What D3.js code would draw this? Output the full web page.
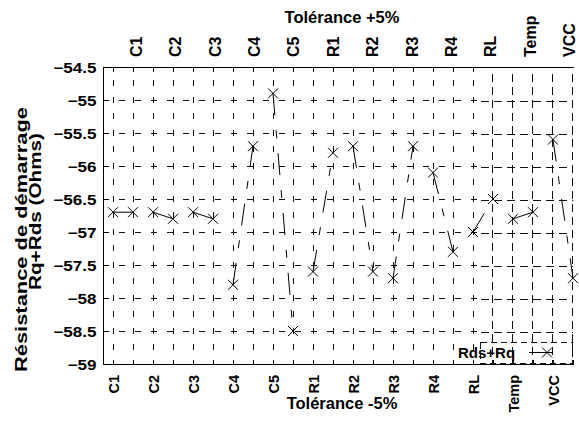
<!DOCTYPE html>
<html>
<head>
<meta charset="utf-8">
<script src="https://cdn.jsdelivr.net/npm/d3@7"></script>
<style>
  html, body { margin: 0; padding: 0; background: #fff; }
  svg { display: block; }
  text { font-family: "Liberation Sans", Arial, Helvetica, sans-serif; font-weight: bold; fill: #000; }
</style>
</head>
<body>
<svg id="chart" width="579" height="426"></svg>
<script>
// ---------------- data ----------------
const params = ["C1", "C2", "C3", "C4", "C5", "R1", "R2", "R3", "R4", "RL", "Temp", "VCC"];
const minus5 = [-56.7, -56.7, -56.7, -57.8, -54.9, -57.6, -55.7, -57.7, -56.1, -57.0, -56.8, -55.6];
const plus5  = [-56.7, -56.8, -56.8, -55.7, -58.5, -55.8, -57.6, -55.7, -57.3, -56.5, -56.7, -57.7];
const yTicks = [-54.5, -55, -55.5, -56, -56.5, -57, -57.5, -58, -58.5, -59];
const seriesName = "Rds+Rq";
const titleTop = "Tolérance +5%";
const titleBottom = "Tolérance -5%";
const yLabel1 = "Résistance de démarrage";
const yLabel2 = "Rq+Rds  (Ohms)";

// ---------------- layout ----------------
const L = 103, R = 573, T = 67, B = 364;
const svg = d3.select("#chart");

const nPos = params.length * 2;
const x = d3.scaleLinear().domain([-0.5, nPos - 1]).range([L, R]);
const y = d3.scaleLinear().domain([-59, -54.5]).range([B, T]);
const xBottom = d3.scalePoint().domain(params).range([x(0), x(nPos - 2)]);
const xTop = d3.scalePoint().domain(params).range([136, 569]);

const points = [];
params.forEach((p, i) => {
  points.push({ pos: 2 * i, v: minus5[i], p });
  points.push({ pos: 2 * i + 1, v: plus5[i], p });
});

const grid = svg.append("g").attr("stroke", "#111").attr("stroke-width", 1)
  .attr("shape-rendering", "crispEdges").attr("fill", "none");

// vertical grid lines
const posIdx = d3.range(nPos);
const splitIdx = 19;
grid.selectAll("line.vA").data(posIdx.filter(i => i < splitIdx)).join("line")
  .attr("x1", d => Math.round(x(d)) + 0.5).attr("x2", d => Math.round(x(d)) + 0.5)
  .attr("y1", T).attr("y2", B)
  .attr("stroke-dasharray", "6,10.5").attr("stroke-dashoffset", 3.5);
grid.selectAll("line.vB").data(posIdx.filter(i => i >= splitIdx)).join("line")
  .attr("x1", d => Math.round(x(d)) - 0.5).attr("x2", d => Math.round(x(d)) - 0.5)
  .attr("y1", T + 7).attr("y2", B)
  .attr("stroke-dasharray", "8,5");

// horizontal grid lines
const hSplit = 478;
const innerY = yTicks.filter(v => v > -59 && v < -54.5);
grid.selectAll("line.hA").data(innerY).join("line")
  .attr("x1", L).attr("x2", hSplit)
  .attr("y1", d => Math.round(y(d)) + 0.5).attr("y2", d => Math.round(y(d)) + 0.5)
  .attr("stroke-dasharray", "6,10");
grid.selectAll("line.hB").data(innerY).join("line")
  .attr("x1", hSplit + 3).attr("x2", R)
  .attr("y1", d => Math.round(y(d)) + 1.5).attr("y2", d => Math.round(y(d)) + 1.5)
  .attr("stroke-dasharray", "8,5");

// axes frame (left, top, bottom solid)
const frame = svg.append("g").attr("stroke", "#000").attr("stroke-width", 1).attr("shape-rendering", "crispEdges");
frame.append("line").attr("x1", L + 0.5).attr("x2", L + 0.5).attr("y1", T).attr("y2", B + 1);
frame.append("line").attr("x1", L).attr("x2", R + 1).attr("y1", T + 0.5).attr("y2", T + 0.5);
frame.append("line").attr("x1", L).attr("x2", R + 1).attr("y1", B + 0.5).attr("y2", B + 0.5);

// tick marks on top & bottom (every position)
frame.selectAll("line.tt").data(posIdx.filter(i => i < splitIdx)).join("line")
  .attr("x1", d => Math.round(x(d)) + 0.5).attr("x2", d => Math.round(x(d)) + 0.5)
  .attr("y1", T).attr("y2", T + 5);
frame.selectAll("line.tb").data(posIdx).join("line")
  .attr("x1", d => Math.round(x(d)) + 0.5).attr("x2", d => Math.round(x(d)) + 0.5)
  .attr("y1", B - 4).attr("y2", B);

// y axis via d3.axisLeft
const yAxis = svg.append("g").attr("transform", `translate(${L + 0.5},0)`)
  .call(d3.axisLeft(y).tickValues(yTicks).tickSize(-5).tickFormat(d3.format("")));
yAxis.select(".domain").remove();
yAxis.selectAll(".tick line").attr("stroke", "#000").attr("shape-rendering", "crispEdges");
yAxis.selectAll(".tick text")
  .attr("x", null).attr("dy", null)
  .attr("font-size", 14).attr("font-family", null)
  .attr("text-anchor", "end")
  .attr("transform", "translate(-7,5) scale(1.22,1)");

// bottom category labels (rotated)
svg.append("g").selectAll("text").data(params).join("text")
  .attr("font-size", 14.5)
  .attr("text-anchor", "end")
  .attr("transform", d => `translate(${xBottom(d) + 6},375) rotate(-90)`)
  .text(d => d);

// top category labels (rotated)
svg.append("g").selectAll("text").data(params).join("text")
  .attr("font-size", 16)
  .attr("text-anchor", "start")
  .attr("transform", d => `translate(${xTop(d) + 6},57) rotate(-90)`)
  .text(d => d);

// titles
svg.append("text").attr("x", 342).attr("y", 23).attr("text-anchor", "middle")
  .attr("font-size", 16.5).text(titleTop);
svg.append("text").attr("x", 342).attr("y", 409).attr("text-anchor", "middle")
  .attr("font-size", 16.5).text(titleBottom);

// y label (two lines)
svg.append("text").attr("transform", "translate(27,372) rotate(-90)")
  .attr("font-size", 16.5).attr("textLength", 265).attr("lengthAdjust", "spacingAndGlyphs")
  .text(yLabel1);
svg.append("text").attr("transform", "translate(41,290) rotate(-90)")
  .attr("font-size", 16.5).attr("textLength", 157).attr("lengthAdjust", "spacingAndGlyphs")
  .text(yLabel2);

// connecting lines for each parameter pair
const line = d3.line().x(d => x(d.pos)).y(d => y(d.v));
svg.append("g").selectAll("path").data(params.map((p, i) => [points[2 * i], points[2 * i + 1]])).join("path")
  .attr("d", line)
  .attr("fill", "none").attr("stroke", "#000").attr("stroke-width", 1)
  .attr("stroke-dasharray", "22,15,8,15");

// markers
const xMark = "M-5,-5L5,5M-5,5L5,-5";
svg.append("g").selectAll("path").data(points).join("path")
  .attr("transform", d => `translate(${x(d.pos)},${y(d.v)})`)
  .attr("d", xMark).attr("stroke", "#000").attr("stroke-width", 1).attr("fill", "none");

// legend
const lg = svg.append("g");
lg.append("rect").attr("x", 480.5).attr("y", 342.5).attr("width", 92).attr("height", 21)
  .attr("fill", "none").attr("stroke", "#111").attr("stroke-dasharray", "6,4")
  .attr("shape-rendering", "crispEdges");
lg.append("text").attr("x", 458).attr("y", 358).attr("font-size", 15).text(seriesName);
lg.append("line").attr("x1", 529).attr("x2", 553).attr("y1", 352.5).attr("y2", 352.5)
  .attr("stroke", "#000");
lg.append("path").attr("transform", "translate(547,352.5)").attr("d", xMark)
  .attr("stroke", "#000").attr("fill", "none");
</script>
</body>
</html>
